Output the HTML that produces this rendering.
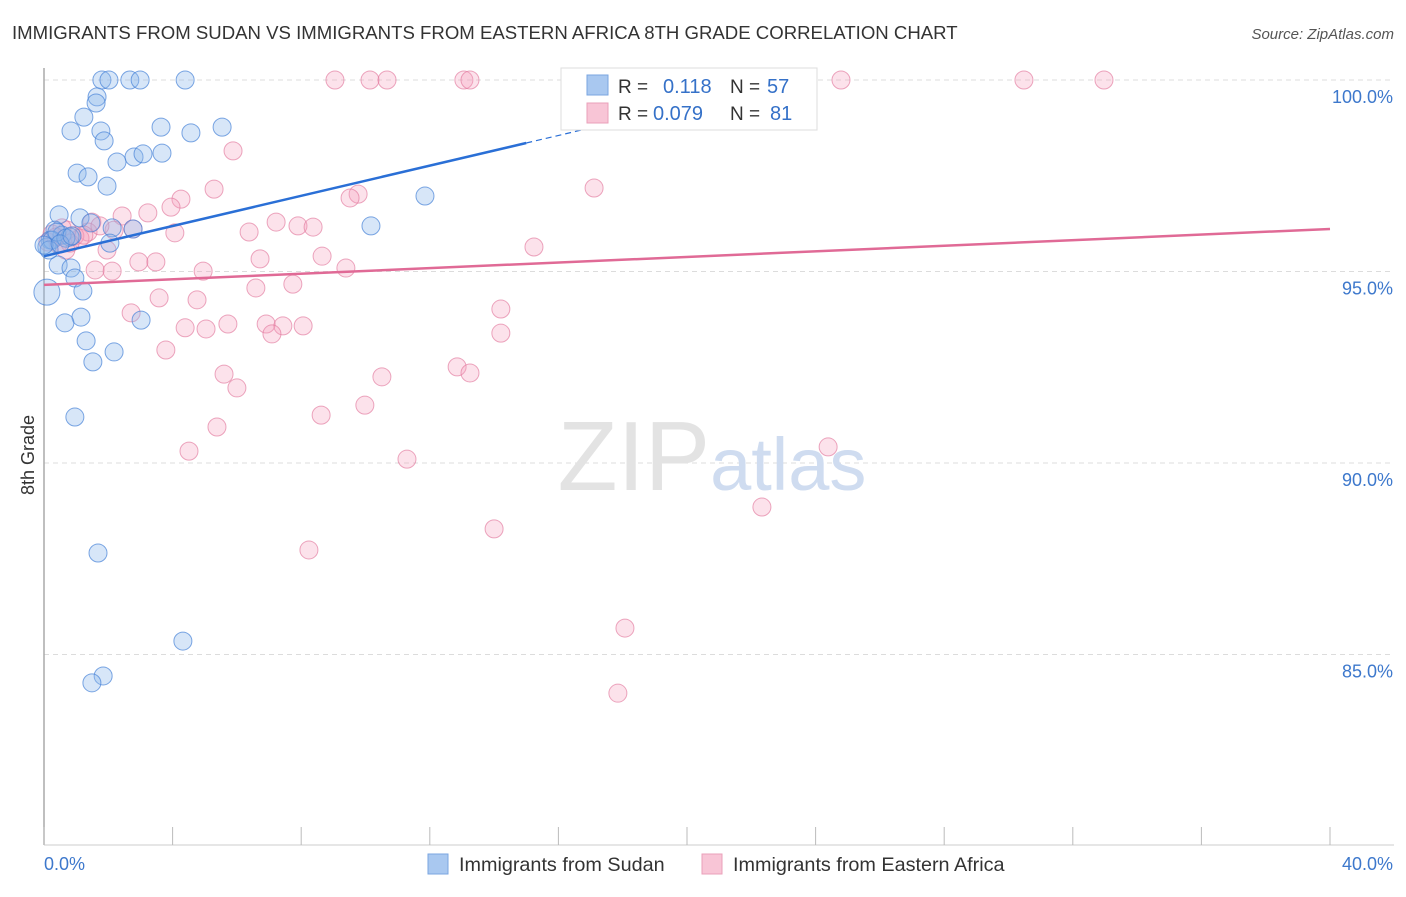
<!DOCTYPE html>
<html><head><meta charset="utf-8">
<style>
body{margin:0;background:#fff;font-family:"Liberation Sans",sans-serif;}
svg text{font-family:"Liberation Sans",sans-serif;}
</style></head>
<body>
<svg id="chart" width="1406" height="892">
<text x="12" y="39" font-size="18.6" fill="#333">IMMIGRANTS FROM SUDAN VS IMMIGRANTS FROM EASTERN AFRICA 8TH GRADE CORRELATION CHART</text>
<text x="1394" y="39" font-size="15" fill="#555" text-anchor="end" font-style="italic">Source: ZipAtlas.com</text>
<g id="grid"></g>
<text x="712" y="490" font-size="98" fill="#e3e3e3" text-anchor="middle" font-family="Liberation Serif">ZIP<tspan fill="#cfdcf0" font-family="Liberation Sans" font-size="74">atlas</tspan></text>
<g id="points"></g>
<g id="lines"></g>
<text transform="translate(34,455) rotate(-90)" font-size="18" fill="#333" text-anchor="middle">8th Grade</text>
<g id="legend">
<rect x="561" y="68" width="256" height="62" fill="#fff" stroke="#ddd"/>
<rect x="587" y="75" width="21" height="20" fill="#a9c8f0" stroke="#7aa6e0"/>
<rect x="587" y="103" width="21" height="20" fill="#f8c5d6" stroke="#eaa0ba"/>
<text x="618" y="93" font-size="19" fill="#333">R =</text><text x="663" y="93" font-size="20" fill="#3571c8">0.118</text>
<text x="730" y="93" font-size="19" fill="#333">N =</text><text x="767" y="93" font-size="20" fill="#3571c8">57</text>
<text x="618" y="120" font-size="19" fill="#333">R =</text><text x="653" y="120" font-size="20" fill="#3571c8">0.079</text>
<text x="730" y="120" font-size="19" fill="#333">N =</text><text x="770" y="120" font-size="20" fill="#3571c8">81</text>
</g>
<g>
<rect x="428" y="854" width="20" height="20" fill="#a9c8f0" stroke="#7aa6e0"/>
<text x="459" y="871" font-size="19.8" fill="#333">Immigrants from Sudan</text>
<rect x="702" y="854" width="20" height="20" fill="#f8c5d6" stroke="#eaa0ba"/>
<text x="733" y="871" font-size="19.8" fill="#333">Immigrants from Eastern Africa</text>
</g>
</svg>
<script>
const blueX=[1.80,2.02,2.67,2.99,4.39,1.65,1.62,1.24,0.84,1.77,3.64,4.57,5.54,1.87,2.27,2.80,3.08,3.67,1.03,1.37,1.96,11.85,0.47,1.12,1.46,10.17,0.34,0.56,0.81,2.77,2.12,0.19,2.05,0.09,0.44,0.84,0.96,1.21,0.09,1.15,0.65,3.02,1.31,2.18,1.52,0.96,1.68,4.32,1.84,1.49,0.25,0.40,0.68,0.16,0,0.5,0.87];
const blueY=[100,100,100,100,100,99.56,99.40,99.03,98.67,98.67,98.77,98.62,98.77,98.41,97.86,97.99,98.07,98.09,97.57,97.47,97.23,96.97,96.48,96.40,96.27,96.19,96.08,95.95,95.90,96.11,96.14,95.82,95.74,95.64,95.17,95.09,94.83,94.49,94.46,93.81,93.66,93.73,93.19,92.90,92.64,91.20,87.65,85.35,84.44,84.26,95.82,96.03,95.87,95.56,95.69,95.72,95.93];
const pinkX=[9.05,10.14,10.67,13.06,13.25,16.58,23.27,24.79,30.48,32.97,5.88,5.29,17.11,9.77,9.52,4.26,3.95,3.23,2.43,1.49,7.22,7.90,8.37,6.38,4.07,0.72,2.18,1.37,0.96,0.44,15.24,1.96,8.65,6.72,2.95,3.48,9.39,1.59,2.12,4.95,7.74,6.59,3.58,4.76,14.21,2.71,5.72,4.39,5.04,6.91,7.43,8.06,7.09,14.21,3.79,12.85,13.25,5.60,10.51,6.00,9.98,8.62,5.38,24.39,4.51,11.29,14.00,22.33,8.24,18.07,17.85,0.25,0.56,1.12,1.74,2.77,0.81,0.37,1.24,0.12,0.68];
const pinkY=[100,100,100,100,100,100,100,100,100,100,98.15,97.15,97.18,97.02,96.92,96.89,96.68,96.53,96.45,96.29,96.29,96.19,96.16,96.03,96.01,96.08,96.08,96.03,95.93,95.72,95.64,95.56,95.40,95.33,95.25,95.25,95.09,95.04,95.01,95.01,94.67,94.57,94.31,94.26,94.02,93.92,93.63,93.53,93.50,93.63,93.58,93.58,93.37,93.39,92.95,92.51,92.35,92.32,92.25,91.96,91.51,91.25,90.94,90.42,90.31,90.10,88.28,88.85,87.73,85.69,83.99,95.98,96.14,95.87,96.19,96.11,95.74,95.90,95.95,95.77,95.56];
const yTicks=[100,95,90,85];
const yTickLabels=["100.0%","95.0%","90.0%","85.0%"];
const xTicks=[0,4,8,12,16,20,24,28,32,36,40];
const blueTrend=[95.40,0.197];
const pinkTrend=[94.65,0.0365];

const NS="http://www.w3.org/2000/svg";
const X0=44,X1=1330,Y100=80,PX5=191.5;
function sx(v){return X0+(X1-X0)*v/40;}
function sy(v){return Y100+(100-v)*PX5/5;}
function mk(tag,attrs,parent){const e=document.createElementNS(NS,tag);for(const k in attrs)e.setAttribute(k,attrs[k]);parent.appendChild(e);return e;}
const grid=document.getElementById('grid');
yTicks.forEach((t,i)=>{
  const l=mk('line',{x1:X0,x2:1394,y1:sy(t),y2:sy(t),stroke:'#dcdcdc','stroke-dasharray':'5,4'},grid);
  
  
  const tx=mk('text',{x:1393,y:sy(t)+23,'font-size':18,fill:'#3d78cc','text-anchor':'end'},grid);
  tx.textContent=yTickLabels[i];
  
  
});
const ax=mk('line',{x1:X0,x2:X0,y1:68,y2:845,stroke:'#aaa','stroke-width':1.5},grid);


const bx=mk('line',{x1:X0,x2:1394,y1:845,y2:845,stroke:'#ccc'},grid);


xTicks.forEach(t=>{
  const l=mk('line',{x1:sx(t),x2:sx(t),y1:827,y2:845,stroke:'#bbb'},grid);
  
  
});
const xl0=mk('text',{x:44,y:870,'font-size':18,fill:'#3d78cc'},grid);xl0.textContent=xTicks[0].toFixed(1)+'%';


const xl1=mk('text',{x:1393,y:870,'font-size':18,fill:'#3d78cc','text-anchor':'end'},grid);xl1.textContent=xTicks[xTicks.length-1].toFixed(1)+'%';



const pts=document.getElementById('points');
pinkX.forEach((v,i)=>{
  const c=mk('circle',{cx:sx(v),cy:sy(pinkY[i]),r:9,fill:'rgba(244,160,188,0.3)',stroke:'rgba(226,120,156,0.65)','stroke-width':1},pts);
  
  
});
blueX.forEach((v,i)=>{
  const c=mk('circle',{cx:sx(v),cy:sy(blueY[i]),r:(i===38?13:9),fill:'rgba(140,182,236,0.35)',stroke:'rgba(70,130,215,0.7)','stroke-width':1},pts);
  
  
});
const lines=document.getElementById('lines');
const b1=mk('line',{x1:sx(0),y1:sy(blueTrend[0]),x2:sx(15),y2:sy(blueTrend[0]+blueTrend[1]*15),stroke:'#2a6fd6','stroke-width':2.5},lines);


const b2=mk('line',{x1:sx(15),y1:sy(blueTrend[0]+blueTrend[1]*15),x2:sx(17.5),y2:sy(blueTrend[0]+blueTrend[1]*17.5),stroke:'#2a6fd6','stroke-width':1.2,'stroke-dasharray':'6,4'},lines);


const p1=mk('line',{x1:sx(0),y1:sy(pinkTrend[0]),x2:sx(40),y2:sy(pinkTrend[0]+pinkTrend[1]*40),stroke:'#e06a96','stroke-width':2.5},lines);


</script>
</body></html>
